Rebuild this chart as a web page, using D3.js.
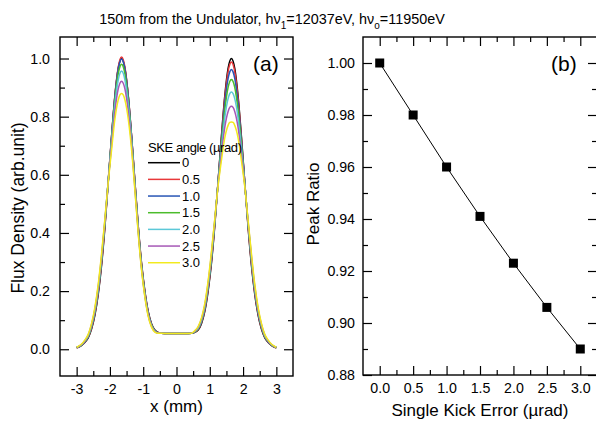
<!DOCTYPE html>
<html>
<head>
<meta charset="utf-8">
<script src="https://cdn.jsdelivr.net/npm/d3@7"></script>
<style>
body { margin: 0; background: #fff; }
svg text { font-family: "Liberation Sans", Arial, sans-serif; fill: #000; }
</style>
</head>
<body>
<svg id="chart" width="596" height="424"></svg>
<script>
// ---- data ----
const xPos = [-3.0, -2.95, -2.85, -2.75, -2.65, -2.55, -2.45, -2.35, -2.25, -2.15, -2.05, -1.95, -1.85, -1.75, -1.7,
  -1.65, -1.6, -1.55, -1.45, -1.35, -1.25, -1.15, -1.05, -0.95, -0.85, -0.75, -0.65, -0.55,
  -0.45, -0.25, 0, 0.25, 0.45,
  0.55, 0.65, 0.75, 0.85, 0.95, 1.05, 1.15, 1.25, 1.35, 1.45, 1.55, 1.6, 1.65,
  1.7, 1.75, 1.85, 1.95, 2.05, 2.15, 2.25, 2.35, 2.45, 2.55, 2.65, 2.75, 2.85, 2.95, 3.0];

const angleLabels = ["0", "0.5", "1.0", "1.5", "2.0", "2.5", "3.0"];

const flux0 = [0.005, 0.007, 0.013, 0.024, 0.040, 0.070, 0.118, 0.190, 0.290, 0.421, 0.575, 0.732, 0.871, 0.966, 0.991,
  1.000, 0.991, 0.966, 0.871, 0.733, 0.577, 0.425, 0.296, 0.200, 0.130, 0.088, 0.066, 0.058,
  0.055, 0.054, 0.054, 0.054, 0.055,
  0.058, 0.066, 0.088, 0.130, 0.200, 0.296, 0.425, 0.577, 0.733, 0.871, 0.966, 0.991, 1.000,
  0.991, 0.966, 0.871, 0.732, 0.575, 0.421, 0.290, 0.190, 0.118, 0.070, 0.040, 0.024, 0.013, 0.007, 0.005];
const flux05 = [0.005, 0.007, 0.014, 0.025, 0.042, 0.073, 0.122, 0.195, 0.296, 0.426, 0.579, 0.734, 0.874, 0.970, 0.996,
  1.005, 0.996, 0.970, 0.874, 0.735, 0.576, 0.422, 0.292, 0.197, 0.127, 0.086, 0.065, 0.058,
  0.055, 0.054, 0.054, 0.054, 0.055,
  0.058, 0.068, 0.091, 0.134, 0.205, 0.302, 0.429, 0.578, 0.728, 0.863, 0.955, 0.979, 0.988,
  0.979, 0.955, 0.863, 0.727, 0.576, 0.425, 0.296, 0.195, 0.122, 0.073, 0.042, 0.025, 0.014, 0.007, 0.005];
const flux10 = [0.006, 0.008, 0.015, 0.026, 0.044, 0.076, 0.126, 0.200, 0.302, 0.431, 0.581, 0.731, 0.870, 0.964, 0.989,
  0.998, 0.989, 0.964, 0.870, 0.732, 0.573, 0.419, 0.289, 0.194, 0.125, 0.084, 0.064, 0.057,
  0.055, 0.054, 0.054, 0.054, 0.055,
  0.059, 0.070, 0.094, 0.138, 0.211, 0.308, 0.434, 0.577, 0.719, 0.846, 0.932, 0.954, 0.962,
  0.954, 0.932, 0.846, 0.718, 0.575, 0.430, 0.302, 0.201, 0.126, 0.076, 0.044, 0.026, 0.015, 0.008, 0.006];
const flux15 = [0.006, 0.008, 0.015, 0.028, 0.045, 0.079, 0.131, 0.206, 0.308, 0.436, 0.581, 0.724, 0.858, 0.948, 0.972,
  0.980, 0.972, 0.948, 0.858, 0.725, 0.569, 0.414, 0.285, 0.190, 0.122, 0.083, 0.063, 0.056,
  0.055, 0.054, 0.054, 0.054, 0.055,
  0.060, 0.071, 0.097, 0.143, 0.216, 0.314, 0.437, 0.574, 0.706, 0.823, 0.901, 0.921, 0.928,
  0.921, 0.901, 0.823, 0.705, 0.572, 0.433, 0.308, 0.206, 0.131, 0.079, 0.045, 0.028, 0.015, 0.008, 0.006];
const flux20 = [0.006, 0.009, 0.016, 0.029, 0.047, 0.082, 0.135, 0.211, 0.314, 0.440, 0.580, 0.716, 0.843, 0.927, 0.949,
  0.957, 0.949, 0.927, 0.843, 0.717, 0.563, 0.410, 0.282, 0.187, 0.120, 0.081, 0.062, 0.056,
  0.055, 0.054, 0.054, 0.054, 0.055,
  0.061, 0.073, 0.100, 0.147, 0.221, 0.320, 0.440, 0.571, 0.689, 0.795, 0.862, 0.879, 0.885,
  0.879, 0.862, 0.795, 0.688, 0.569, 0.436, 0.314, 0.211, 0.135, 0.082, 0.047, 0.029, 0.016, 0.009, 0.006];
const flux25 = [0.007, 0.009, 0.017, 0.030, 0.050, 0.086, 0.140, 0.218, 0.322, 0.445, 0.579, 0.702, 0.820, 0.896, 0.915,
  0.922, 0.915, 0.896, 0.820, 0.703, 0.555, 0.404, 0.277, 0.183, 0.117, 0.078, 0.060, 0.055,
  0.055, 0.054, 0.054, 0.054, 0.055,
  0.062, 0.076, 0.104, 0.152, 0.228, 0.328, 0.445, 0.567, 0.671, 0.763, 0.818, 0.832, 0.836,
  0.832, 0.818, 0.763, 0.670, 0.565, 0.441, 0.322, 0.218, 0.140, 0.086, 0.050, 0.030, 0.017, 0.009, 0.007];
const flux30 = [0.007, 0.010, 0.018, 0.032, 0.052, 0.090, 0.146, 0.225, 0.330, 0.450, 0.576, 0.686, 0.792, 0.858, 0.875,
  0.880, 0.875, 0.858, 0.792, 0.687, 0.546, 0.398, 0.272, 0.179, 0.113, 0.076, 0.059, 0.055,
  0.055, 0.054, 0.054, 0.054, 0.055,
  0.064, 0.078, 0.108, 0.158, 0.235, 0.336, 0.449, 0.562, 0.650, 0.727, 0.770, 0.780, 0.782,
  0.780, 0.770, 0.727, 0.649, 0.560, 0.445, 0.330, 0.225, 0.146, 0.090, 0.052, 0.032, 0.018, 0.010, 0.007];

const kickError = [0, 0.5, 1.0, 1.5, 2.0, 2.5, 3.0];
const peakRatio = [1.000, 0.980, 0.960, 0.941, 0.923, 0.906, 0.890];

const lineColors = ["#000000", "#e8383a", "#2855b5", "#4cbc2c", "#5cc8d8", "#a658b6", "#f2ea1e"];
const fluxSeries = [flux0, flux05, flux10, flux15, flux20, flux25, flux30];

// ---- drawing ----
const svg = d3.select("#chart");

// inward ticks on all four sides of a panel
function drawFrame(g, x, y, w, h, xMajor, xMinor, yMajor, yMinor, xFmt, yFmt, yPad) {
    g.append("g")
        .attr("transform", `translate(0,${h})`)
        .call(d3.axisBottom(x).tickValues(xMajor).tickSize(-9).tickPadding(8).tickFormat(xFmt));
    g.append("g")
        .attr("transform", `translate(0,${h})`)
        .call(d3.axisBottom(x).tickValues(xMinor).tickSize(-5).tickFormat(""));
    g.append("g")
        .call(d3.axisTop(x).tickValues(xMajor).tickSize(-9).tickFormat(""));
    g.append("g")
        .call(d3.axisTop(x).tickValues(xMinor).tickSize(-5).tickFormat(""));
    g.append("g")
        .call(d3.axisLeft(y).tickValues(yMajor).tickSize(-9).tickPadding(yPad).tickFormat(yFmt));
    g.append("g")
        .call(d3.axisLeft(y).tickValues(yMinor).tickSize(-5).tickFormat(""));
    g.append("g")
        .attr("transform", `translate(${w},0)`)
        .call(d3.axisRight(y).tickValues(yMajor).tickSize(-9).tickFormat(""));
    g.append("g")
        .attr("transform", `translate(${w},0)`)
        .call(d3.axisRight(y).tickValues(yMinor).tickSize(-5).tickFormat(""));

    g.selectAll(".domain").remove();
    g.selectAll(".tick line").attr("stroke", "#000").attr("stroke-width", 1.2);
    g.selectAll(".tick text").attr("font-size", 14.2).attr("fill", "#000");

    g.append("rect")
        .attr("width", w).attr("height", h)
        .attr("fill", "none").attr("stroke", "#000").attr("stroke-width", 1.4);
}

// title
const title = svg.append("text")
    .attr("x", 272).attr("y", 24)
    .attr("text-anchor", "middle")
    .attr("font-size", 14.4);
title.append("tspan").text("150m from the Undulator, hν");
title.append("tspan").attr("dy", 5).attr("font-size", 10).text("1");
title.append("tspan").attr("dy", -5).text("=12037eV, hν");
title.append("tspan").attr("dy", 5).attr("font-size", 10).text("o");
title.append("tspan").attr("dy", -5).text("=11950eV");

// ---- panel (a) ----
const A = {left: 60, top: 37, width: 233, height: 339};
const ga = svg.append("g").attr("transform", `translate(${A.left},${A.top})`);
const xa = d3.scaleLinear().domain([-3.5, 3.5]).range([0, A.width]);
const ya = d3.scaleLinear().domain([-0.092, 1.074]).range([A.height, 0]);

svg.append("defs").append("clipPath").attr("id", "clipA")
    .append("rect").attr("width", A.width).attr("height", A.height);

const line = d3.line()
    .x((d, i) => xa(xPos[i]))
    .y(d => ya(d))
    .curve(d3.curveMonotoneX);

ga.append("g").attr("clip-path", "url(#clipA)")
    .selectAll("path")
    .data(fluxSeries)
    .join("path")
    .attr("d", line)
    .attr("fill", "none")
    .attr("stroke", (d, i) => lineColors[i])
    .attr("stroke-width", 1.5);

drawFrame(ga, xa, ya, A.width, A.height,
    [-3, -2, -1, 0, 1, 2, 3], [-2.5, -1.5, -0.5, 0.5, 1.5, 2.5],
    [0, 0.2, 0.4, 0.6, 0.8, 1.0], [0.1, 0.3, 0.5, 0.7, 0.9],
    d => String(d), d3.format(".1f"), 10);

ga.append("text")
    .attr("x", 193).attr("y", 34)
    .attr("font-size", 21).text("(a)");

ga.append("text")
    .attr("x", A.width / 2).attr("y", 375)
    .attr("text-anchor", "middle").attr("font-size", 17)
    .text("x (mm)");

svg.append("text")
    .attr("transform", "translate(24,208) rotate(-90)")
    .attr("text-anchor", "middle").attr("font-size", 17.5)
    .text("Flux Density (arb.unit)");

// legend
const legend = ga.append("g").attr("transform", "translate(88,0)");
legend.append("text")
    .attr("x", 0).attr("y", 114.5)
    .attr("font-size", 13).attr("letter-spacing", -0.4)
    .text("SKE angle (µrad)");
const rows = legend.selectAll(".row")
    .data(angleLabels)
    .join("g")
    .attr("class", "row")
    .attr("transform", (d, i) => `translate(0,${125.7 + i * 16.67})`);
rows.append("line")
    .attr("x1", 0).attr("x2", 32)
    .attr("stroke", (d, i) => lineColors[i])
    .attr("stroke-width", 1.5);
rows.append("text")
    .attr("x", 34).attr("y", 4.7)
    .attr("font-size", 13)
    .text(d => d);

// ---- panel (b) ----
const B = {left: 363, top: 37, width: 234, height: 338};
const gb = svg.append("g").attr("transform", `translate(${B.left},${B.top})`);
const xb = d3.scaleLinear().domain([-0.25, 3.25]).range([0, B.width]);
const yb = d3.scaleLinear().domain([0.88, 1.01]).range([B.height, 0]);

drawFrame(gb, xb, yb, B.width, B.height,
    [0, 0.5, 1, 1.5, 2, 2.5, 3], [0.25, 0.75, 1.25, 1.75, 2.25, 2.75],
    [0.88, 0.90, 0.92, 0.94, 0.96, 0.98, 1.00], [0.89, 0.91, 0.93, 0.95, 0.97, 0.99],
    d3.format(".1f"), d3.format(".2f"), 8);

const pts = kickError.map((k, i) => [k, peakRatio[i]]);
gb.append("path")
    .datum(pts)
    .attr("d", d3.line().x(d => xb(d[0])).y(d => yb(d[1])))
    .attr("fill", "none")
    .attr("stroke", "#000")
    .attr("stroke-width", 1);
gb.selectAll(".mark")
    .data(pts)
    .join("rect")
    .attr("class", "mark")
    .attr("x", d => xb(d[0]) - 4.5)
    .attr("y", d => yb(d[1]) - 4.5)
    .attr("width", 9).attr("height", 9)
    .attr("fill", "#000");

gb.append("text")
    .attr("x", 188).attr("y", 34)
    .attr("font-size", 21).text("(b)");

gb.append("text")
    .attr("x", B.width / 2).attr("y", 379)
    .attr("text-anchor", "middle").attr("font-size", 17)
    .text("Single Kick Error (µrad)");

svg.append("text")
    .attr("transform", "translate(319,204) rotate(-90)")
    .attr("text-anchor", "middle").attr("font-size", 17)
    .text("Peak Ratio");
</script>
</body>
</html>
